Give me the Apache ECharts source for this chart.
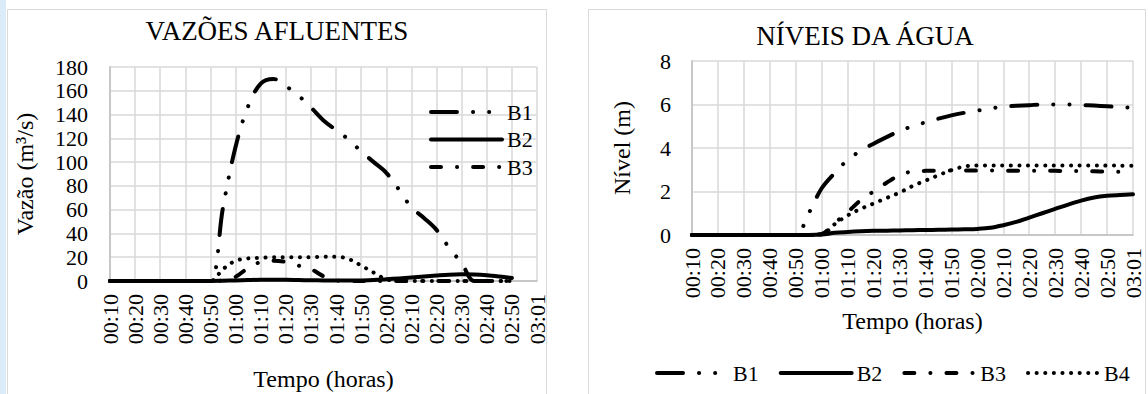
<!DOCTYPE html>
<html><head><meta charset="utf-8">
<script src="https://cdn.jsdelivr.net/npm/echarts@6/dist/echarts.min.js"></script>
<style>html,body{margin:0;padding:0;background:#fff}#c{width:1148px;height:394px}</style>
</head><body><div id="c"></div>
<script>
// 5-minute categories; labels shown every 10 minutes
const times = ['00:10','00:15','00:20','00:25','00:30','00:35','00:40','00:45','00:50','00:55',
  '01:00','01:05','01:10','01:15','01:20','01:25','01:30','01:35','01:40','01:45',
  '01:50','01:55','02:00','02:05','02:10','02:15','02:20','02:25','02:30','02:35',
  '02:40','02:45','02:50','02:55','03:01'];

// VAZÕES AFLUENTES (m³/s)
const vazaoB1 = [0,0,0,0,0,0,0,0,0,62,113,147,166,170,164,156,146,135,127,119,109,100,91,77,62,53,43,28,15,0,0,0,0,null,null];
const vazaoB2 = [0,0,0,0,0,0,0,0,0,0.2,0.5,0.8,1,1,1,0.8,0.6,0.5,0.4,0.4,0.5,0.8,1.5,2.2,3,3.8,4.6,5.3,5.6,5.4,4.8,3.8,2.6,null,null];
const vazaoB3 = [0,0,0,0,0,0,0,0,0,0.5,3.5,11,16,17,16,13,10,4,0.5,0,0,0,0,0,0,0,0,0,0,0,0,0,0,null,null];
const vazaoB4 = [0,0,0,0,0,0,0,0,0,10,17,19,19.5,20,20,20,20,20.5,20.5,18.5,13,7,1.5,0,0,0,0,0,0,0,0,0,0,null,null];

// NÍVEIS DA ÁGUA (m)
const nivelB1 = [0,0,0,0,0,0,0,0,0,1.0,2.15,2.85,3.45,3.87,4.2,4.5,4.78,5.0,5.18,5.35,5.5,5.62,5.72,5.82,5.9,5.94,5.97,6.0,6.0,6.0,5.98,5.95,5.92,5.88,5.85];
const nivelB2 = [0,0,0,0,0,0,0,0,0,0,0.02,0.1,0.14,0.17,0.19,0.2,0.21,0.22,0.23,0.24,0.25,0.26,0.28,0.33,0.45,0.6,0.8,1.0,1.2,1.4,1.58,1.72,1.8,1.84,1.87];
const nivelB3 = [0,0,0,0,0,0,0,0,0,0,0.05,0.55,1.05,1.6,2.0,2.4,2.75,2.92,2.95,2.96,2.97,2.97,2.96,2.96,2.96,2.95,2.95,2.95,2.95,2.94,2.94,2.93,2.92,2.91,2.9];
const nivelB4 = [0,0,0,0,0,0,0,0,0,0,0.02,0.5,0.9,1.2,1.45,1.7,1.95,2.25,2.5,2.75,2.98,3.15,3.2,3.2,3.2,3.2,3.2,3.2,3.2,3.2,3.2,3.2,3.19,3.19,3.18];

const FONT = "'Liberation Serif', serif";
const W = 4;
const dashB1 = [26,16,0.1,16,0.1,16];
const dashB3 = [10,16,0.1,16];
const dashB4 = [0.1,8.5];

function ls(type){ return {color:'#000', width:W, type:type, cap:'round', join:'round'}; }
function mk(name, data, type, idx){
  return {name:name, type:'line', data:data, xAxisIndex:idx, yAxisIndex:idx, symbol:'none',
    smooth:0.35, connectNulls:false, lineStyle:ls(type), itemStyle:{color:'#000'}, animation:false};
}
function xAx(gi, nameGap){
  return {type:'category', gridIndex:gi, data:times, boundaryGap:false,
    axisLine:{show:true, lineStyle:{color:'#bfbfbf', width:1.5}},
    axisTick:{show:false},
    axisLabel:{interval:1, rotate:90, margin:13, color:'#000', fontFamily:FONT, fontSize:22},
    splitLine:{show:true, interval:1, lineStyle:{color:'#d9d9d9', width:1.5}},
    name:'Tempo (horas)', nameLocation:'middle', nameGap:nameGap,
    nameTextStyle:{color:'#000', fontFamily:FONT, fontSize:24}};
}
function yAx(gi, max, interval, name, nameGap, margin){
  return {type:'value', gridIndex:gi, min:0, max:max, interval:interval,
    axisLine:{show:true, lineStyle:{color:'#c8c8c8', width:2}},
    axisTick:{show:false},
    axisLabel:{margin:margin, color:'#000', fontFamily:FONT, fontSize:22},
    splitLine:{show:true, lineStyle:{color:'#d9d9d9', width:1.5}},
    name:name, nameLocation:'middle', nameGap:nameGap, nameRotate:90,
    nameTextStyle:{color:'#000', fontFamily:FONT, fontSize:24}};
}
const legendCommon = {itemWidth:71, itemHeight:22, selectedMode:false,
  textStyle:{color:'#000', fontFamily:FONT, fontSize:22},
  lineStyle:{width:W},
  itemStyle:{opacity:0, color:'rgba(0,0,0,0)', borderWidth:0}};

const chart = echarts.init(document.getElementById('c'), null, {renderer:'svg'});
chart.setOption({
  animation:false,
  backgroundColor:'#fff',
  textStyle:{fontFamily:FONT},
  graphic:[
    {type:'rect', shape:{x:0,y:0,width:6,height:394}, style:{fill:'#dcebf8'}, silent:true, z:-10},
    {type:'rect', shape:{x:7.5,y:9.5,width:539,height:400}, style:{fill:'#fff', stroke:'#d9d9d9', lineWidth:1}, silent:true, z:-10},
    {type:'rect', shape:{x:588.5,y:9.5,width:557,height:400}, style:{fill:'#fff', stroke:'#d9d9d9', lineWidth:1}, silent:true, z:-10},
    {type:'text', x:277, y:31, style:{text:'VAZÕES AFLUENTES', font:"27px 'Liberation Serif', serif", fill:'#000', align:'center', verticalAlign:'middle'}},
    {type:'text', x:865, y:36, style:{text:'NÍVEIS DA ÁGUA', font:"27px 'Liberation Serif', serif", fill:'#000', align:'center', verticalAlign:'middle'}}
  ],
  grid:[
    {left:110, top:67, width:427, height:214, outerBoundsMode:'none', containLabel:false},
    {left:692, top:61, width:441, height:174, outerBoundsMode:'none', containLabel:false}
  ],
  xAxis:[xAx(0, 86), xAx(1, 74)],
  yAxis:[yAx(0, 180, 20, 'Vazão (m³/s)', 73, 22), yAx(1, 8, 2, 'Nível (m)', 58, 21)],
  legend:[
    Object.assign({data:['B1','B2','B3'], orient:'vertical', left:424, top:96, itemGap:5.5}, legendCommon),
    Object.assign({data:['B1','B2','B3','B4'], orient:'horizontal', left:650, top:357, itemGap:20}, legendCommon)
  ],
  series:[
    mk('B4', vazaoB4, dashB4, 0),
    mk('B3', vazaoB3, dashB3, 0),
    mk('B1', vazaoB1, dashB1, 0),
    mk('B2', vazaoB2, 'solid', 0),
    mk('B4', nivelB4, dashB4, 1),
    mk('B3', nivelB3, dashB3, 1),
    mk('B1', nivelB1, dashB1, 1),
    mk('B2', nivelB2, 'solid', 1)
  ]
});
</script>
</body></html>
